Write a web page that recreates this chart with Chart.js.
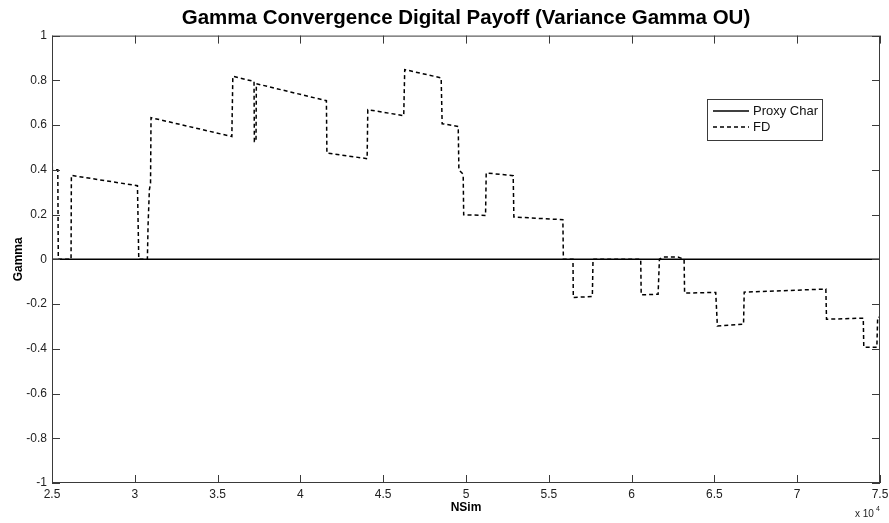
<!DOCTYPE html>
<html>
<head>
<meta charset="utf-8">
<script src="https://cdn.jsdelivr.net/npm/chart.js@4/dist/chart.umd.min.js"></script>
<style>
  html, body { margin: 0; padding: 0; background: #fff; }
  #wrap { width: 889px; height: 523px; }
</style>
</head>
<body>
<div id="wrap"><canvas id="c" width="889" height="523"></canvas></div>
<script>
// Simulation counts (in units of 10^4) and finite-difference gamma estimates
const fdNSim = [
  2.500, 2.502, 2.535, 2.538, 2.615, 2.617, 3.016, 3.024, 3.076, 3.080,
  3.088, 3.095, 3.098, 3.586, 3.592, 3.720, 3.722, 3.732, 3.734, 4.157,
  4.160, 4.403, 4.407, 4.624, 4.630, 4.850, 4.856, 4.953, 4.957, 4.983,
  4.986, 5.118, 5.122, 5.285, 5.289, 5.585, 5.588, 5.646, 5.648, 5.763,
  5.767, 6.055, 6.058, 6.160, 6.168, 6.190, 6.280, 6.317, 6.320, 6.508,
  6.518, 6.676, 6.680, 7.173, 7.177, 7.399, 7.402, 7.481, 7.486, 7.500
];
const fdGamma = [
  0.790, 0.400, 0.400, 0.000, 0.000, 0.375, 0.329, 0.000, 0.000, 0.150,
  0.310, 0.340, 0.633, 0.549, 0.818, 0.795, 0.527, 0.527, 0.785, 0.709,
  0.475, 0.450, 0.669, 0.642, 0.848, 0.811, 0.606, 0.594, 0.400, 0.380,
  0.199, 0.196, 0.386, 0.374, 0.189, 0.177, 0.000, 0.000, -0.171, -0.166,
  0.000, 0.000, -0.159, -0.156, 0.000, 0.010, 0.010, 0.000, -0.151, -0.148,
  -0.298, -0.290, -0.147, -0.133, -0.268, -0.263, -0.393, -0.393, -0.259, -0.259
];
// Proxy characteristic-function gamma over the same range
const proxyNSim = [2.5, 7.5];
const proxyGamma = [0, 0];

const xTicks = [2.5, 3, 3.5, 4, 4.5, 5, 5.5, 6, 6.5, 7, 7.5];
const yTicks = [-1, -0.8, -0.6, -0.4, -0.2, 0, 0.2, 0.4, 0.6, 0.8, 1];

const FONT = "'Liberation Sans', Arial, sans-serif";
const TICK_FONT = "'Liberation Sans Narrow', 'Liberation Sans', Arial, sans-serif";

const toPoints = (xs, ys) => xs.map((x, i) => ({ x: x, y: ys[i] }));

// Box, inward ticks on all sides, legend and the axis exponent note
const frame = {
  id: 'frame',
  afterDatasetsDraw(chart) {
    const { ctx, chartArea: a, scales } = chart;
    ctx.save();
    ctx.strokeStyle = '#3a3a3a';
    ctx.lineWidth = 1;
    ctx.strokeRect(a.left + 0.5, a.top + 0.5, a.right - a.left - 1, a.bottom - a.top - 1);
    ctx.beginPath();
    xTicks.forEach(v => {
      const px = Math.round(scales.x.getPixelForValue(v)) + 0.5;
      ctx.moveTo(px, a.bottom); ctx.lineTo(px, a.bottom - 8);
      ctx.moveTo(px, a.top); ctx.lineTo(px, a.top + 8);
    });
    yTicks.forEach(v => {
      const py = Math.round(scales.y.getPixelForValue(v)) + 0.5;
      ctx.moveTo(a.left, py); ctx.lineTo(a.left + 8, py);
      ctx.moveTo(a.right, py); ctx.lineTo(a.right - 8, py);
    });
    ctx.stroke();

    // legend
    const lx = 707, ly = 99, lw = 115, lh = 41;
    ctx.fillStyle = '#fff';
    ctx.fillRect(lx, ly, lw, lh);
    ctx.strokeStyle = '#3a3a3a';
    ctx.strokeRect(lx + 0.5, ly + 0.5, lw, lh);
    ctx.font = '13px ' + FONT;
    ctx.textBaseline = 'middle';
    ctx.textAlign = 'left';
    chart.data.datasets.forEach((ds, i) => {
      const yy = ly + 12 + i * 16;
      ctx.strokeStyle = ds.borderColor;
      ctx.lineWidth = ds.borderWidth;
      ctx.setLineDash(ds.borderDash || []);
      ctx.beginPath();
      ctx.moveTo(lx + 6, yy); ctx.lineTo(lx + 42, yy);
      ctx.stroke();
      ctx.setLineDash([]);
      ctx.fillStyle = '#111';
      ctx.fillText(ds.label, lx + 46, yy);
    });

    // x 10^4
    ctx.fillStyle = '#222';
    ctx.font = '10px ' + FONT;
    ctx.textAlign = 'left';
    ctx.textBaseline = 'alphabetic';
    ctx.fillText('x 10', 855, 517);
    ctx.font = '7px ' + FONT;
    ctx.fillText('4', 876, 511);
    ctx.restore();
  }
};

new Chart(document.getElementById('c'), {
  type: 'line',
  data: {
    datasets: [
      {
        label: 'Proxy Char',
        data: toPoints(proxyNSim, proxyGamma),
        borderColor: '#000',
        borderWidth: 1.6,
        pointRadius: 0,
        tension: 0
      },
      {
        label: 'FD',
        data: toPoints(fdNSim, fdGamma),
        borderColor: '#000',
        borderWidth: 1.5,
        borderDash: [4, 3],
        pointRadius: 0,
        tension: 0
      }
    ]
  },
  options: {
    responsive: false,
    animation: false,
    layout: { padding: { left: 0, right: 9, top: 0, bottom: 0 } },
    plugins: {
      legend: { display: false },
      tooltip: { enabled: false },
      title: {
        display: true,
        fullSize: false,
        text: 'Gamma Convergence Digital Payoff (Variance Gamma OU)',
        color: '#000',
        font: { family: FONT, size: 20.5, weight: 'bold', lineHeight: 1.2 },
        padding: { top: 6, bottom: 5 }
      }
    },
    scales: {
      x: {
        type: 'linear',
        min: 2.5,
        max: 7.5,
        afterBuildTicks(s) { s.ticks = xTicks.map(v => ({ value: v })); },
        afterFit(s) { s.height = 40; s.paddingLeft = 0; s.paddingRight = 0; },
        grid: { display: false, drawTicks: false },
        border: { display: false },
        ticks: {
          padding: 4,
          color: '#222',
          font: { family: TICK_FONT, size: 12 },
          maxRotation: 0,
          autoSkip: false,
          callback: v => String(v)
        },
        title: {
          display: true,
          text: 'NSim',
          color: '#000',
          font: { family: FONT, size: 12, weight: 'bold', lineHeight: 1.2 },
          padding: { top: 0, bottom: 8 }
        }
      },
      y: {
        min: -1,
        max: 1,
        afterBuildTicks(s) { s.ticks = yTicks.map(v => ({ value: v })); },
        afterFit(s) { s.width = 52; s.paddingTop = 0; s.paddingBottom = 0; },
        grid: { display: false, drawTicks: false },
        border: { display: false },
        ticks: {
          padding: 5,
          color: '#222',
          font: { family: TICK_FONT, size: 12 },
          autoSkip: false,
          callback: v => String(Math.round(v * 10) / 10)
        },
        title: {
          display: true,
          text: 'Gamma',
          color: '#000',
          font: { family: FONT, size: 12, weight: 'bold', lineHeight: 1.2 },
          padding: { top: 11, bottom: 0 }
        }
      }
    }
  },
  plugins: [frame]
});
</script>
</body>
</html>
